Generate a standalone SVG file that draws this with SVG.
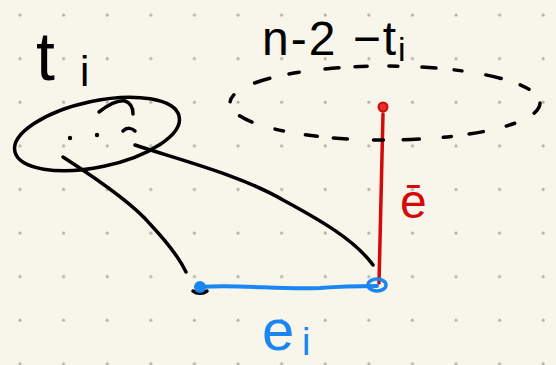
<svg xmlns="http://www.w3.org/2000/svg" width="556" height="365" viewBox="0 0 556 365">
<defs>
<pattern id="dots" patternUnits="userSpaceOnUse" width="43.6" height="43.6">
<circle cx="20" cy="15" r="1.5" fill="#b3b2a8"/>
</pattern>
<style>
.ink{fill:none;stroke:#000;stroke-width:3.5;stroke-linecap:round;stroke-linejoin:round}
.red{fill:none;stroke:#d40a0a;stroke-width:3.5;stroke-linecap:round}
.blue{fill:none;stroke:#1a86f2;stroke-width:4;stroke-linecap:round}
.lbl{font-family:"Liberation Sans","DejaVu Sans",sans-serif}
</style>
</defs>
<rect width="556" height="365" fill="#f8f6ea"/>
<rect width="556" height="365" fill="url(#dots)"/>

<g id="connectors">
<path class="ink" d="M63,157 C80,168 130,200 150,224 C165,240 178,255 186,272"/>
<path class="ink" d="M135,145 C180,160 240,175 283,200 C320,220 355,240 373,265"/>
<path class="red" d="M383,114 C382,160 380,220 379,283"/>
<path class="blue" d="M200,287 C240,284 280,290 320,288 C345,286 362,286 377,286"/>
</g>

<g id="subtree-ti">
<ellipse class="ink" cx="97" cy="134" rx="84" ry="33" transform="rotate(-12 97 134)"/>
<path class="ink" d="M99,112 C108,105 118,100 125,101 C131,103 133,109 133,114"/>
<circle cx="70" cy="138" r="2.2" fill="#000"/>
<circle cx="97" cy="135" r="2.2" fill="#000"/>
<path class="ink" d="M123,131 C127,127 132,128 135,131"/>
<text class="lbl" x="36" y="80" font-size="68">t<tspan x="80" y="86" font-size="42">i</tspan></text>
</g>

<g id="subtree-rest">
<ellipse class="ink" cx="385" cy="103" rx="155" ry="37" stroke-dasharray="12 22 9 24 14 18 8 24 16 20 10 26 14 16"/>
<text class="lbl" x="262" y="55" font-size="48" letter-spacing="2">n-2 −t<tspan font-size="34" dy="6">i</tspan></text>
</g>

<g id="vertex-top">
<circle cx="383" cy="107" r="4.5" fill="#e03030" stroke="#d40a0a" stroke-width="2"/>
</g>

<g id="vertex-left">
<path d="M193,291 C197,294 203,294 207,291" fill="none" stroke="#000" stroke-width="3.5" stroke-linecap="round"/>
<circle cx="200" cy="287" r="6" fill="#1a86f2"/>
</g>

<g id="vertex-right">
<ellipse cx="377" cy="285" rx="9" ry="6" fill="none" stroke="#1a86f2" stroke-width="3.5"/>
</g>

<text class="lbl" x="400" y="218" font-size="48" fill="#d40a0a">ē</text>
<text class="lbl" x="262" y="350" font-size="58" fill="#1a86f2">e<tspan x="302" y="355" font-size="38">i</tspan></text>
</svg>
